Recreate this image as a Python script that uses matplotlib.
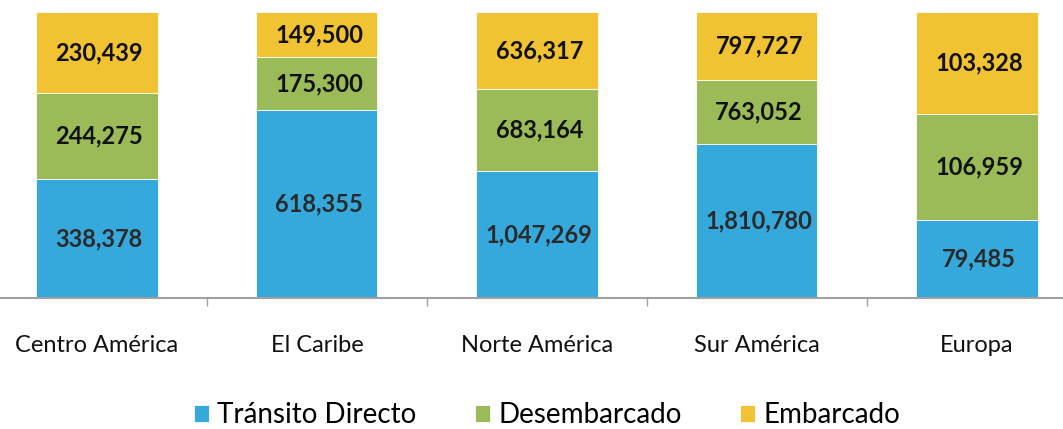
import matplotlib.pyplot as plt
import numpy as np

categorias = ['Centro América', 'El Caribe', 'Norte América', 'Sur América', 'Europa']
series = ['Tránsito Directo', 'Desembarcado', 'Embarcado']
transito = [338378, 618355, 1047269, 1810780, 79485]
desembarcado = [244275, 175300, 683164, 763052, 106959]
embarcado = [230439, 149500, 636317, 797727, 103328]

colores = ['#36a9dc', '#9bbb59', '#f1c232']
col_texto = ['#2a2a2a', '#111111', '#111111']

plt.rcParams['font.family'] = ['Lato', 'DejaVu Sans']

fig = plt.figure(figsize=(10.63, 4.29), dpi=100)
ax = fig.add_axes([-13 / 1063, 131 / 429, 1100 / 1063, 286 / 429])

valores = np.array([transito, desembarcado, embarcado], dtype=float)
totales = valores.sum(axis=0)
pct = valores / totales

x = np.arange(len(categorias))
abajo = np.zeros(len(categorias))
for i, nombre in enumerate(series):
    ax.bar(x, pct[i], bottom=abajo, width=0.55, color=colores[i],
           edgecolor='white', linewidth=0.6, label=nombre)
    for j in range(len(categorias)):
        ax.text(x[j] + 0.01, abajo[j] + pct[i][j] / 2, f'{int(valores[i][j]):,}',
                ha='center', va='center', fontsize=17, fontweight='bold',
                color=col_texto[i])
    abajo += pct[i]

ax.set_xlim(-0.5, 4.5)
ax.set_ylim(0, 1)
ax.set_yticks([])
for s in ['top', 'right', 'left']:
    ax.spines[s].set_visible(False)
ax.spines['bottom'].set_color('#a0a0a0')
ax.spines['bottom'].set_linewidth(1.5)
ax.set_xticks(np.arange(-0.5, 5, 1.0))
ax.set_xticklabels([])
ax.tick_params(axis='x', length=6, color='#a0a0a0', width=1)
for j, c in enumerate(categorias):
    ax.text(x[j], -0.165, c, ha='center', va='center', fontsize=17, color='#111111')

ax.legend(loc='center', bbox_to_anchor=(560 / 1100, -0.41), ncol=3, frameon=False,
          fontsize=20, handlelength=0.55, handleheight=0.55, handletextpad=0.3,
          columnspacing=2.1)

fig.savefig('out.png', dpi=100)
